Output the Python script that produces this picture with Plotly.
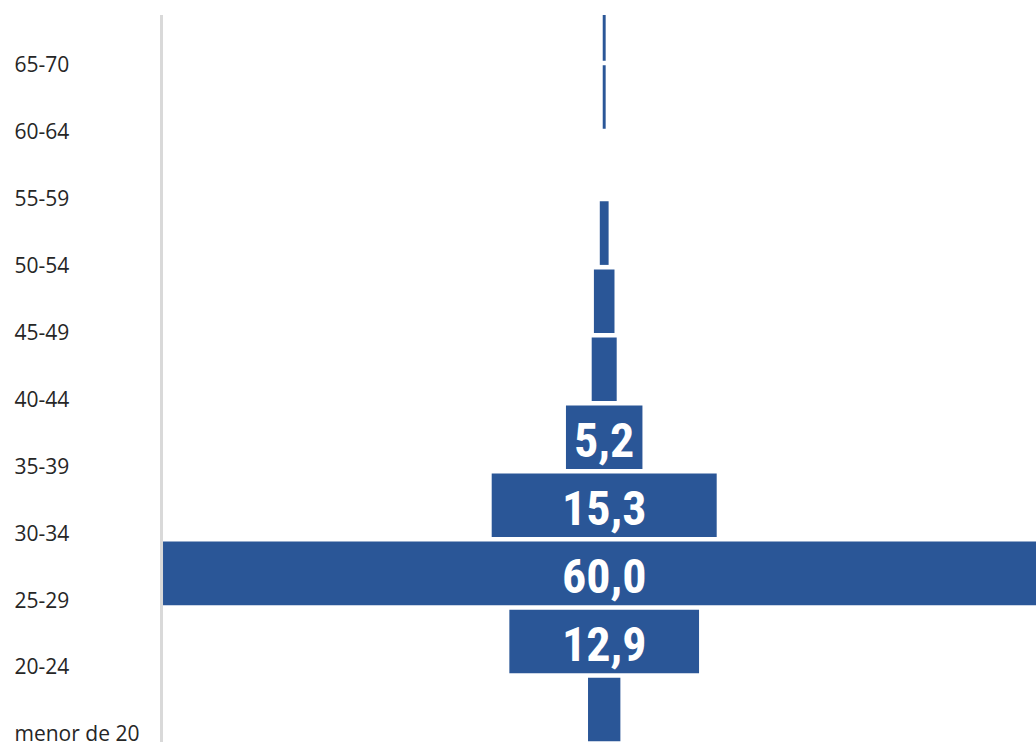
import plotly.graph_objects as go

# Data (bottom to top)
categories = ["menor de 20", "20-24", "25-29", "30-34", "35-39", "40-44",
              "45-49", "50-54", "55-59", "60-64", "65-70"]
values = [2.2, 12.9, 60.0, 15.3, 5.2, 1.7, 1.4, 0.6, 0.0, 0.2, 0.2]
label_threshold = 5.0

W, H = 1036, 742
bar_color = "#2A5697"

texts = [f"{v:.1f}".replace(".", ",") if v >= label_threshold else "" for v in values]
bases = [-v / 2 for v in values]

fig = go.Figure()
fig.add_trace(go.Bar(
    orientation="h",
    y=categories,
    x=values,
    base=bases,
    marker=dict(color=bar_color, line=dict(width=0)),
    hoverinfo="skip",
))
# invisible trace to carry the category labels axis
fig.add_trace(go.Scatter(
    x=[0] * len(categories),
    y=list(range(len(categories))),
    yaxis="y2",
    mode="markers",
    marker=dict(opacity=0),
    hoverinfo="skip",
    showlegend=False,
))

# value labels centred on each bar
for cat, t in zip(categories, texts):
    if t:
        fig.add_annotation(
            x=0, y=cat, xref="x", yref="y", text=t, showarrow=False,
            xanchor="center", yanchor="middle", yshift=-3,
            font=dict(family="Liberation Sans Narrow, Roboto Condensed, DejaVu Sans Condensed, sans-serif",
                      size=48, color="white", weight="bold"),
        )

left_px = 162.5
center_px = 604.2
px_per_unit = 14.706
x_lo = -(center_px - left_px) / px_per_unit
x_hi = (W - center_px) / px_per_unit

fig.update_layout(
    width=W, height=H,
    margin=dict(l=0, r=0, t=15, b=0, autoexpand=False),
    paper_bgcolor="white",
    plot_bgcolor="white",
    showlegend=False,
    bargap=0.066,
    hovermode=False,
    xaxis=dict(domain=[left_px / W, 1], range=[x_lo, x_hi], visible=False,
               showgrid=False, zeroline=False, fixedrange=True, automargin=False),
    yaxis=dict(type="category", categoryorder="array", categoryarray=categories,
               range=[-0.4775, 10.205], showticklabels=False, ticks="",
               showline=True, linecolor="#D9D9D9", linewidth=2.5, automargin=False,
               showgrid=False, zeroline=False, fixedrange=True),
    yaxis2=dict(overlaying="y", anchor="free", position=13.5 / W, side="right",
                range=[-0.1196, 10.747], tickmode="array",
                tickvals=list(range(len(categories))), ticktext=categories,
                ticks="", showline=False, ticklabeloverflow="allow", automargin=False,
                showgrid=False, zeroline=False, fixedrange=True,
                tickfont=dict(family="Open Sans, sans-serif", size=21, color="#262626")),
)

fig.write_html("out.html", config={"displayModeBar": False},
               post_script="document.body.style.margin='0';document.body.style.overflow='hidden';")
